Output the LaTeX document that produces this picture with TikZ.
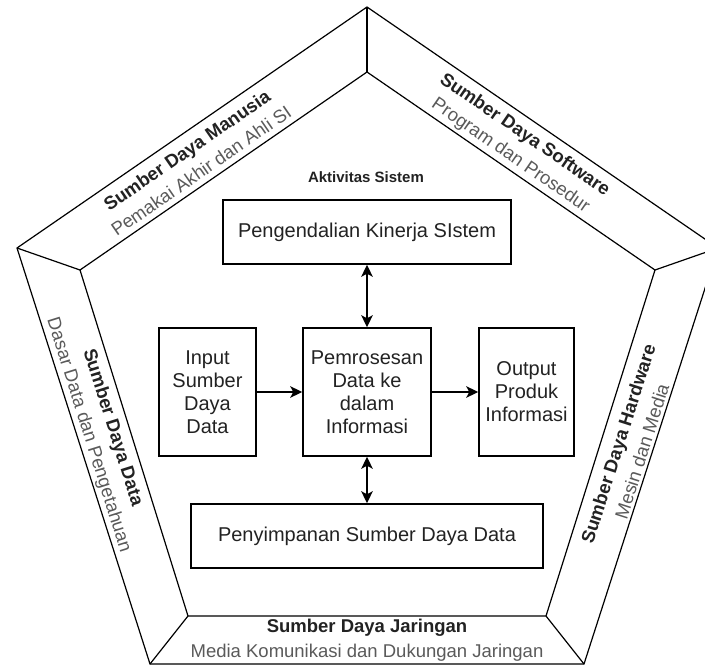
\documentclass[tikz,border=0pt]{standalone}
\usepackage{fontspec}
\setmainfont{Liberation Sans}
\usetikzlibrary{arrows.meta}
\definecolor{ink}{HTML}{222222}
\definecolor{subink}{HTML}{5A5A5A}
\begin{document}
\begin{tikzpicture}[x=1pt,y=-1pt,
  frame/.style={line width=1.2pt, line join=miter},
  box/.style={draw, line width=1.5pt, inner sep=0pt, align=center,
    font=\fontsize{20}{23}\selectfont, text=ink},
  band/.style={inner sep=0pt, align=center,
    font=\fontsize{18.5}{25}\selectfont, text=ink},
  tip/.tip={Stealth[length=12pt,width=11.5pt,inset=3pt]},
  link/.style={line width=1.5pt, -tip},
  dlink/.style={line width=1.5pt, tip-tip}]
\path[use as bounding box, clip] (0,0) rectangle (705,666);

% outer and inner pentagon with the corner joints
\coordinate (o1) at (367,7);
\coordinate (o2) at (718,248);
\coordinate (o3) at (584,664);
\coordinate (o4) at (150,664);
\coordinate (o5) at (17,248);
\coordinate (i1) at (367,72);
\coordinate (i2) at (655,270);
\coordinate (i3) at (546,616);
\coordinate (i4) at (188,616);
\coordinate (i5) at (80,270);
\draw[frame] (o1) -- (o2) -- (o3) -- (o4) -- (o5) -- cycle;
\draw[frame] (i1) -- (i2) -- (i3) -- (i4) -- (i5) -- cycle;
\foreach \k in {1,...,5} \draw[frame] (o\k) -- (i\k);

% resource labels along the bands
\node[band, rotate=34.6] (hr) at (194,160.5)
  {\textbf{Sumber Daya Manusia}\\\textcolor{subink}{Pemakai Akhir dan Ahli SI}};
\node[band, rotate=-34.5] (sw) at (517.5,145.5)
  {\textbf{Sumber Daya Software}\\\textcolor{subink}{Program dan Prosedur}};
\node[band, rotate=-72.5] (dt) at (100.5,431.5)
  {\textbf{Sumber Daya Data}\\\textcolor{subink}{Dasar Data dan Pengetahuan}};
\node[band, rotate=72.3] (hw) at (630,447.5)
  {\textbf{Sumber Daya Hardware}\\\textcolor{subink}{Mesin dan Media}};
\node[band] (nw) at (367,640.5)
  {\textbf{Sumber Daya Jaringan}\\\textcolor{subink}{Media Komunikasi dan Dukungan Jaringan}};

% system activities
\node[font=\bfseries\fontsize{15}{18}\selectfont, text=ink] (act) at (366,177) {Aktivitas Sistem};
\node[box, minimum width=288pt, minimum height=64pt] (ctrl) at (367,232) {Pengendalian Kinerja SIstem};
\node[box, minimum width=97pt, minimum height=128pt] (inp) at (207.5,392) {Input\\Sumber\\Daya\\Data};
\node[box, minimum width=128pt, minimum height=128pt] (proc) at (367,392) {Pemrosesan\\Data ke\\dalam\\Informasi};
\node[box, minimum width=95pt, minimum height=128pt] (out) at (526.5,392) {Output\\Produk\\Informasi};
\node[box, minimum width=352pt, minimum height=64pt] (store) at (367,536) {Penyimpanan Sumber Daya Data};

\draw[link] (inp) -- (proc);
\draw[link] (proc) -- (out);
\draw[dlink] (ctrl) -- (proc);
\draw[dlink] (proc) -- (store);
\end{tikzpicture}
\end{document}
